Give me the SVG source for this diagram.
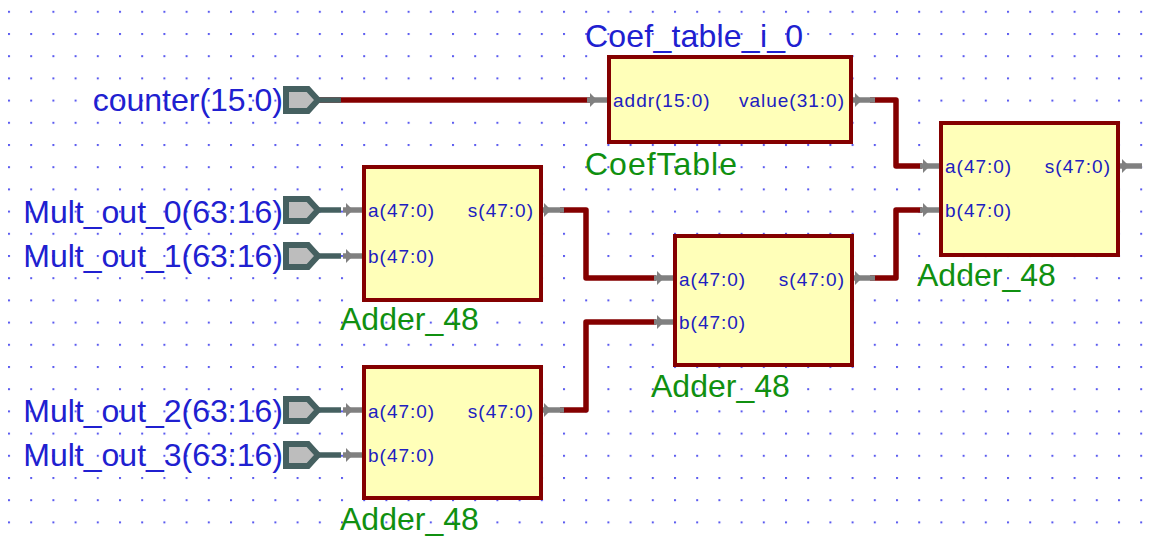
<svg xmlns="http://www.w3.org/2000/svg" width="1153" height="542" viewBox="0 0 1153 542">
<defs>
<pattern id="dots" x="8" y="10.800" width="22.2" height="22.2" patternUnits="userSpaceOnUse"><rect x="0" y="0" width="2" height="2" fill="#5a5af0"/></pattern>
<g id="stub"><path d="M0 0H23" stroke="#808080" stroke-width="5.500" fill="none"/><path d="M3-7L10 0L3 7Z" fill="#808080"/></g>
<g id="pin"><path d="M34 0H58" stroke="#456060" stroke-width="5.500" fill="none"/><path d="M3-11H25L35 0L25 11H3Z" fill="#bdbdbd" stroke="#456060" stroke-width="6"/></g>
</defs>
<style>
.box{fill:#ffffb9;stroke:#840000;stroke-width:4}
.bus{fill:none;stroke:#840000;stroke-width:5.500;stroke-linejoin:round}
.big{font:32px "Liberation Sans",Arial,sans-serif;fill:#2020d0}
.name{font:32px "Liberation Sans",Arial,sans-serif;fill:#109010}
.port{font:19px "Liberation Sans",Arial,sans-serif;letter-spacing:1px;fill:#2020c0}
.e{text-anchor:end}
</style>
<rect width="1153" height="542" fill="#fff"/>
<rect width="1153" height="542" fill="url(#dots)"/>
<g id="connectors">
<path class="bus" d="M318 100H590"/>
<path class="bus" d="M870 100H896V166H922"/>
<path class="bus" d="M560 210H586V278H656"/>
<path class="bus" d="M870 278H896V210H922"/>
<path class="bus" d="M560 410H586V322H656"/>
<use href="#stub" x="587" y="100"/><use href="#stub" x="852" y="100"/>
<use href="#stub" x="920" y="166"/><use href="#stub" x="920" y="210"/><use href="#stub" x="1119" y="166"/>
<use href="#stub" x="654" y="278"/><use href="#stub" x="654" y="322"/><use href="#stub" x="852" y="278"/>
<use href="#stub" x="343" y="210"/><use href="#stub" x="343" y="256"/><use href="#stub" x="541" y="210"/>
<use href="#stub" x="343" y="410"/><use href="#stub" x="343" y="455"/><use href="#stub" x="541" y="410"/>
</g>
<g id="counter"><use href="#pin" x="283" y="100"/><text class="big e" x="283" y="111">counter(15:0)</text></g>
<g id="mult0"><use href="#pin" x="283" y="210"/><text class="big e" x="283" y="223">Mult_out_0(63:16)</text></g>
<g id="mult1"><use href="#pin" x="283" y="256"/><text class="big e" x="283" y="267">Mult_out_1(63:16)</text></g>
<g id="mult2"><use href="#pin" x="283" y="410"/><text class="big e" x="283" y="422">Mult_out_2(63:16)</text></g>
<g id="mult3"><use href="#pin" x="283" y="455"/><text class="big e" x="283" y="466">Mult_out_3(63:16)</text></g>
<g id="coef"><rect class="box" x="609" y="57" width="242" height="85"/>
<text class="big" x="585" y="47" textLength="218" lengthAdjust="spacing">Coef_table_i_0</text><text class="name" x="585" y="175" textLength="152" lengthAdjust="spacing">CoefTable</text>
<text class="port" x="613" y="107">addr(15:0)</text><text class="port e" x="845" y="107">value(31:0)</text></g>
<g id="adderTop"><rect class="box" x="364" y="167" width="177" height="133"/><text class="name" x="340" y="330">Adder_48</text>
<text class="port" x="368" y="217">a(47:0)</text><text class="port" x="368" y="263">b(47:0)</text><text class="port e" x="534" y="217">s(47:0)</text></g>
<g id="adderMid"><rect class="box" x="675" y="236" width="177" height="129"/><text class="name" x="651" y="397">Adder_48</text>
<text class="port" x="679" y="286">a(47:0)</text><text class="port" x="679" y="329">b(47:0)</text><text class="port e" x="845" y="286">s(47:0)</text></g>
<g id="adderBot"><rect class="box" x="364" y="367" width="177" height="131"/><text class="name" x="340" y="530">Adder_48</text>
<text class="port" x="368" y="418">a(47:0)</text><text class="port" x="368" y="462">b(47:0)</text><text class="port e" x="534" y="418">s(47:0)</text></g>
<g id="adderRight"><rect class="box" x="941" y="123" width="177" height="132"/><text class="name" x="917" y="286">Adder_48</text>
<text class="port" x="945" y="173">a(47:0)</text><text class="port" x="945" y="217">b(47:0)</text><text class="port e" x="1111" y="173">s(47:0)</text></g>
</svg>
